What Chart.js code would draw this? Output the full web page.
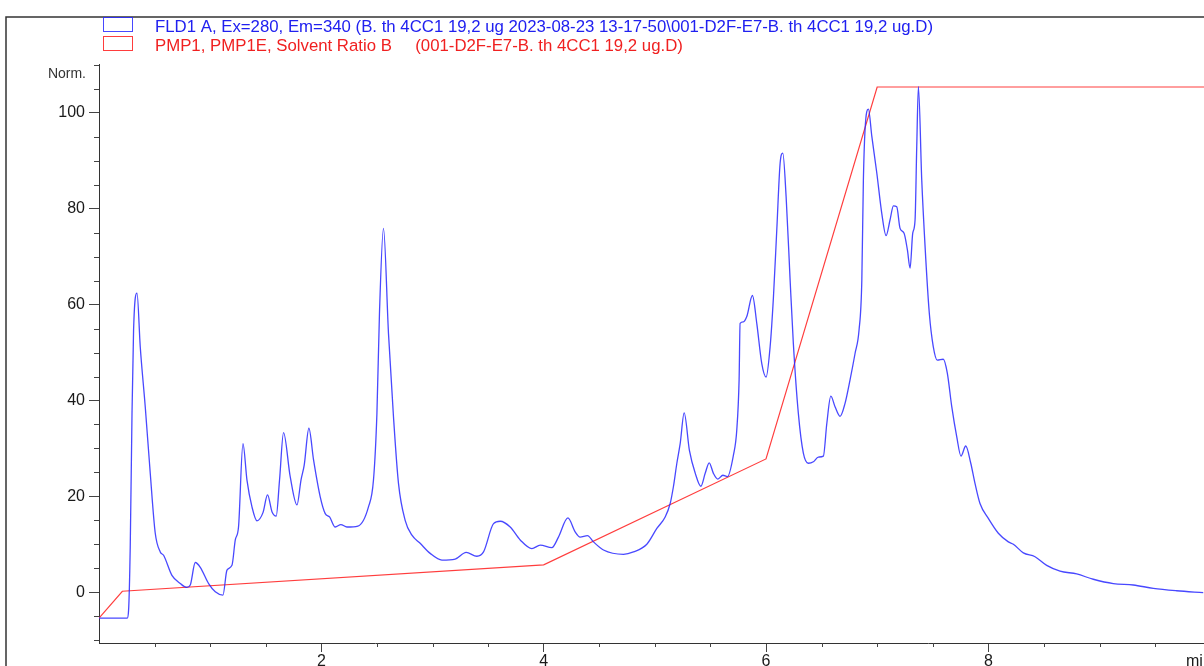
<!DOCTYPE html>
<html>
<head>
<meta charset="utf-8">
<script src="https://cdn.jsdelivr.net/npm/chart.js@4.4.1/dist/chart.umd.min.js"></script>
<style>
    html, body { margin: 0; padding: 0; background: #fff; }
    #wrap { width: 1204px; height: 666px; overflow: hidden; }
</style>
</head>
<body>
<div id="wrap"><canvas id="chromChart" width="1204" height="666"></canvas></div>
<script>
// FLD1 trace (time in min, normalised signal)
const fldTime = [
    0, 0.254, 0.266, 0.281, 0.297, 0.311, 0.342, 0.371, 0.416, 0.461,
    0.506, 0.551, 0.581, 0.656, 0.731, 0.791, 0.821, 0.866, 0.911, 0.986,
    1.046, 1.115, 1.151, 1.196, 1.226, 1.255, 1.295, 1.331, 1.376, 1.421,
    1.475, 1.516, 1.556, 1.594, 1.624, 1.660, 1.720, 1.781, 1.817, 1.846,
    1.888, 1.930, 1.990, 2.035, 2.074, 2.125, 2.176, 2.230, 2.329, 2.424,
    2.469, 2.500, 2.523, 2.559, 2.604, 2.649, 2.694, 2.754, 2.815, 2.889,
    2.979, 3.085, 3.204, 3.303, 3.399, 3.459, 3.549, 3.609, 3.699, 3.789,
    3.894, 3.969, 4.074, 4.133, 4.218, 4.283, 4.328, 4.394, 4.448, 4.538,
    4.718, 4.808, 4.928, 5.018, 5.093, 5.138, 5.167, 5.198, 5.228, 5.264,
    5.311, 5.364, 5.414, 5.453, 5.489, 5.527, 5.567, 5.612, 5.653, 5.707,
    5.737, 5.758, 5.767, 5.797, 5.827, 5.878, 5.917, 5.962, 6.001, 6.037,
    6.067, 6.097, 6.127, 6.151, 6.181, 6.217, 6.246, 6.291, 6.336, 6.381,
    6.426, 6.471, 6.516, 6.547, 6.583, 6.621, 6.666, 6.711, 6.756, 6.801,
    6.837, 6.862, 6.876, 6.891, 6.921, 6.952, 6.997, 7.041, 7.080, 7.116,
    7.146, 7.176, 7.206, 7.242, 7.272, 7.296, 7.320, 7.341, 7.356, 7.371,
    7.401, 7.431, 7.469, 7.505, 7.541, 7.595, 7.631, 7.671, 7.716, 7.754,
    7.797, 7.842, 7.880, 7.925, 8.000, 8.090, 8.180, 8.225, 8.315, 8.420,
    8.525, 8.645, 8.795, 8.944, 9.124, 9.304, 9.484, 9.694, 9.933
];
const fldNorm = [
    -5.4, -5.4, -3.8, 9.5, 37.4, 54.7, 62.4, 51.2, 38.7, 24.8,
    12.3, 8.4, 7.7, 3.5, 1.8, 1.0, 1.5, 6.2, 5.2, 1.8,
    0.1, -0.6, 4.6, 5.6, 10.9, 13.6, 31.0, 23.4, 17.8, 14.9,
    16.6, 20.3, 16.8, 15.9, 23.4, 33.3, 24.1, 18.2, 23.4, 26.5,
    34.2, 27.6, 19.9, 16.4, 15.7, 13.6, 14.1, 13.6, 13.8, 17.8,
    23.4, 37.3, 58.2, 75.9, 54.0, 36.6, 22.7, 15.0, 11.9, 10.2,
    8.1, 6.7, 6.9, 8.3, 7.5, 8.4, 14.3, 14.8, 13.6, 10.9,
    9.1, 9.8, 9.3, 11.5, 15.5, 12.6, 11.5, 11.8, 10.5, 8.8,
    7.9, 8.4, 10.0, 13.3, 15.7, 18.5, 22.0, 26.9, 31.0, 37.4,
    29.6, 24.8, 22.1, 24.8, 27.0, 24.8, 23.6, 24.4, 24.1, 28.6,
    33.8, 44.3, 56.1, 56.4, 57.5, 61.9, 56.1, 47.7, 44.9, 51.2,
    61.6, 75.6, 89.5, 91.6, 82.5, 65.1, 51.9, 37.3, 29.0, 26.9,
    27.2, 28.2, 28.4, 35.2, 40.9, 38.7, 36.7, 39.4, 44.3, 49.8,
    54.7, 65.1, 86.0, 96.5, 100.8, 95.1, 87.4, 79.1, 74.4, 77.7,
    80.6, 80.4, 75.9, 74.9, 71.4, 67.6, 74.9, 77.7, 93.0, 105.5,
    86.0, 72.1, 58.2, 51.2, 48.4, 48.6, 45.7, 38.7, 32.4, 28.4,
    30.5, 26.9, 22.7, 18.5, 15.4, 12.3, 10.5, 10.0, 8.2, 7.4,
    5.6, 4.4, 3.8, 2.7, 1.8, 1.5, 0.8, 0.3, -0.1
];

// pump gradient, solvent ratio B
const gradTime = [0, 0.21, 4.0, 6.0, 7.0, 9.94];
const gradB = [-5.4, 0.2, 5.7, 27.8, 105.4, 105.4];

const legendLabels = [
    'FLD1 A, Ex=280, Em=340 (B. th 4CC1 19,2 ug 2023-08-23 13-17-50\\001-D2F-E7-B. th 4CC1 19,2 ug.D)',
    'PMP1, PMP1E, Solvent Ratio B     (001-D2F-E7-B. th 4CC1 19,2 ug.D)'
];
const yTitle = 'Norm.';
const xTitle = 'min';

const FONT = "'Liberation Sans', Arial, sans-serif";

// frame, minor ticks, legend and axis titles
const chromDecor = {
    id: 'chromDecor',
    beforeDraw(chart) {
        const ctx = chart.ctx;
        ctx.save();
        ctx.fillStyle = '#fff';
        ctx.fillRect(0, 0, chart.width, chart.height);
        ctx.restore();
    },
    afterDraw(chart) {
        const ctx = chart.ctx;
        const xs = chart.scales.x;
        const ys = chart.scales.y;
        ctx.save();

        // outer frame
        ctx.strokeStyle = '#333';
        ctx.lineWidth = 1.5;
        ctx.beginPath();
        ctx.moveTo(6, chart.height);
        ctx.lineTo(6, 17);
        ctx.lineTo(chart.width, 17);
        ctx.stroke();

        // minor ticks
        ctx.strokeStyle = '#444';
        ctx.lineWidth = 1;
        ctx.beginPath();
        for (let v = -10; v <= 110; v += 5) {
            if (v % 20 === 0) continue;
            const py = Math.round(ys.getPixelForValue(v)) + 0.5;
            ctx.moveTo(ys.right - 5, py);
            ctx.lineTo(ys.right, py);
        }
        for (let t = 0.5; t < xs.max; t += 0.5) {
            if (t % 2 === 0) continue;
            const px = Math.round(xs.getPixelForValue(t)) + 0.5;
            ctx.moveTo(px, xs.top);
            ctx.lineTo(px, xs.top + 4);
        }
        ctx.stroke();

        // legend boxes + text
        ctx.font = '16.8px ' + FONT;
        ctx.textBaseline = 'alphabetic';
        chart.data.datasets.forEach((ds, i) => {
            const top = 17.5 + i * 19;
            ctx.strokeStyle = ds.borderColor;
            ctx.lineWidth = 1;
            ctx.strokeRect(103.5, top, 29, 14);
            ctx.fillStyle = ds.legendColor;
            ctx.fillText(legendLabels[i], 155, top + 14);
        });

        // axis titles
        ctx.fillStyle = '#333';
        ctx.font = '14px ' + FONT;
        ctx.textAlign = 'right';
        ctx.fillText(yTitle, 86, 78);
        ctx.textAlign = 'left';
        ctx.font = '16px ' + FONT;
        ctx.fillStyle = '#1a1a1a';
        ctx.fillText(xTitle, 1186, 666);

        ctx.restore();
    }
};

const ctx = document.getElementById('chromChart').getContext('2d');
const chromChart = new Chart(ctx, {
    type: 'line',
    data: {
        datasets: [{
            label: legendLabels[0],
            data: fldTime.map((t, i) => ({ x: t, y: fldNorm[i] })),
            borderColor: 'rgba(40, 40, 255, 0.85)',
            legendColor: '#2020f0',
            borderWidth: 1.3,
            pointRadius: 0,
            cubicInterpolationMode: 'monotone',
            fill: false
        }, {
            label: legendLabels[1],
            data: gradTime.map((t, i) => ({ x: t, y: gradB[i] })),
            borderColor: 'rgba(255, 40, 40, 0.9)',
            legendColor: '#f02020',
            borderWidth: 1.2,
            pointRadius: 0,
            tension: 0,
            fill: false
        }]
    },
    options: {
        responsive: false,
        animation: false,
        layout: {
            padding: { top: 64, left: 0, right: 0, bottom: 0 }
        },
        plugins: {
            legend: { display: false },
            tooltip: { enabled: false }
        },
        scales: {
            x: {
                type: 'linear',
                min: 0,
                max: 9.94,
                afterFit: s => { s.height = 23; },
                ticks: {
                    stepSize: 2,
                    includeBounds: false,
                    maxRotation: 0,
                    padding: 0,
                    color: '#1a1a1a',
                    font: { family: FONT, size: 16 },
                    callback: v => (v === 0 ? '' : v)
                },
                grid: {
                    drawOnChartArea: false,
                    tickLength: 9,
                    tickColor: c => (c.tick && c.tick.value === 0 ? 'rgba(0,0,0,0)' : '#444')
                },
                border: { color: '#333', width: 1 }
            },
            y: {
                min: -10.6,
                max: 110.2,
                afterFit: s => { s.width = 99; },
                ticks: {
                    stepSize: 20,
                    includeBounds: false,
                    padding: 4,
                    color: '#1a1a1a',
                    font: { family: FONT, size: 16 }
                },
                grid: {
                    drawOnChartArea: false,
                    tickLength: 10,
                    tickColor: '#444'
                },
                border: { color: '#333', width: 1 }
            }
        }
    },
    plugins: [chromDecor]
});
</script>
</body>
</html>
